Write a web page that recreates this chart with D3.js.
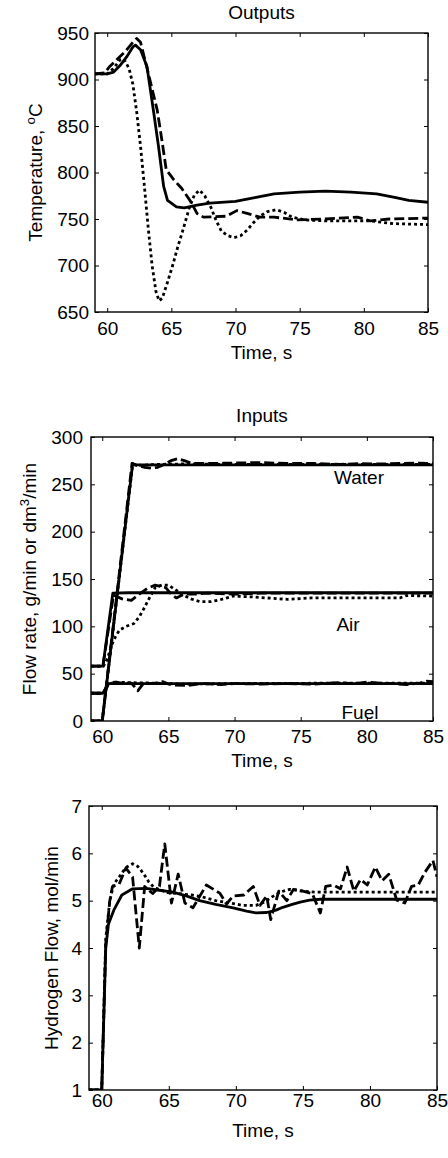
<!DOCTYPE html>
<html>
<head>
<meta charset="utf-8">
<script src="https://cdn.jsdelivr.net/npm/d3@7"></script>
<style>
body { margin: 0; background: #fff; }
svg text { font-family: "Liberation Sans", Arial, Helvetica, sans-serif; fill: #000; }
</style>
</head>
<body>
<svg id="chart" width="448" height="1158"></svg>
<script>
// ---- data (time s, value) ----
const timeTicks = [60, 65, 70, 75, 80, 85];

// Outputs: temperature
const tempTicks = [650, 700, 750, 800, 850, 900, 950];
const tempSolid = [[59,906],[60,906],[60.5,908],[61,915],[61.5,924],[62,935],[62.2,937],[62.6,932],[63.1,914],[63.6,867],[64,828],[64.4,785],[64.7,770],[65.4,763],[66,762],[67,765],[68,767],[70,769],[71.5,773],[73,777],[75,779],[77,780],[79,779],[81,777],[82.5,773],[83.5,770],[85,768]];
const tempDashed = [[59,906],[59.8,907],[60.2,914],[60.8,922],[61.4,930],[62,940],[62.3,944],[62.6,940],[63.2,907],[63.9,867],[64.26,835],[64.6,803],[65.2,792],[65.8,783],[66.5,769],[67,756],[67.5,752],[69.3,753],[70.1,759],[70.9,756],[71.9,752],[73,752],[74.8,749],[77,750],[79.5,752],[80.5,748],[82,750],[85,751]];
const tempDotted = [[59,906],[60,906],[60.5,912],[61,921],[61.3,922],[61.7,912],[62,895],[62.3,865],[62.6,828],[62.9,785],[63.2,740],[63.5,700],[63.8,672],[64.05,662],[64.3,665],[64.7,682],[65.1,700],[65.5,720],[65.9,738],[66.4,762],[66.8,776],[67.2,781],[67.6,775],[68.1,762],[68.5,748],[68.9,737],[69.4,732],[69.9,730],[70.4,732],[70.9,738],[71.4,746],[71.9,753],[72.5,758],[73.2,760],[73.8,757],[74.4,752],[75.4,749],[77,748],[79,748],[80.5,748],[82.3,745],[85,744]];

// Inputs: water, air, fuel
const flowTicks = [0, 50, 100, 150, 200, 250, 300];
const waterSolid = [[59.15,0],[60,0],[62.3,272],[62.5,270.5],[85,270.5]];
const waterDashed = [[59.15,0],[60,0],[62.25,272],[62.6,270],[63.2,268],[63.7,267],[64.2,268],[64.7,271],[65.2,275],[65.7,277],[66.2,275],[66.8,272],[68,272],[70,272.5],[72,273],[74,272],[76,272],[78,271],[79.5,272],[81,271.5],[82.5,272],[84,272.5],[85,272]];
const waterDotted = [[59.15,0],[60,0],[62.3,271],[63,270],[64,271],[66,271.5],[70,271],[85,271]];
const airSolid = [[59.15,58],[60.05,58],[60.8,135],[62,135.5],[85,135.5]];
const airDashed = [[59.15,58],[60.05,58],[60.85,133],[61.5,129],[62.2,127.5],[62.8,134],[63.4,140],[64,143.5],[64.8,141],[65.2,134],[65.6,130],[66.2,134],[67,134],[68,135],[70,134],[72,135],[75,135],[80,135],[85,135]];
const airDotted = [[59.15,58],[60.1,58],[60.4,66],[60.7,80],[61,89],[61.3,96],[61.8,100],[62.4,103],[62.8,110],[63.2,120],[63.6,131],[64,141],[64.5,143.5],[65,143.5],[65.5,139],[66.1,133],[66.7,129],[67.4,126],[68.2,126],[68.9,128],[69.9,132],[71.4,131],[74,128.5],[75.8,130],[78,130],[80,130],[82.5,130],[83,132.5],[85,132]];
const fuelSolid = [[59.15,29.3],[60.05,29.3],[60.5,39.5],[85,39.5]];
const fuelDashed = [[59.15,29.3],[60.05,29.3],[60.5,40.5],[61,41],[61.5,40],[62.2,40],[62.7,32],[63.1,39.5],[64,40],[64.6,41.5],[65,39],[65.5,38],[66.5,37.5],[67.5,39.5],[69,38.5],[70,39.5],[72,39],[74,39.5],[76,39],[77,40],[78,40.5],[79,39.5],[80,41],[81,40],[82,39.5],[83,38.5],[84,40],[84.5,42],[85,41.5]];
const fuelDotted = [[59.15,29.3],[60.05,29.3],[60.5,39],[61,41],[62,40.5],[64,40],[66,39],[70,39.5],[78,40],[85,40]];

// Hydrogen flow
const h2Ticks = [1, 2, 3, 4, 5, 6, 7];
const h2Solid = [[59.05,1],[60,1],[60.3,4],[60.5,4.5],[60.9,4.8],[61.5,5.12],[62.3,5.25],[63.3,5.26],[64.3,5.22],[65.3,5.18],[66.3,5.1],[67.3,5],[68.5,4.92],[69.8,4.85],[70.8,4.78],[71.5,4.74],[72.3,4.75],[73,4.8],[73.5,4.86],[74.2,4.92],[74.8,4.97],[75.5,5.01],[76.3,5.03],[85,5.03]];
const h2Dashed = [[59.05,1],[60,1],[60.3,4.1],[60.6,5],[60.8,5.3],[61.3,5.35],[61.8,5.69],[62.3,5.5],[62.8,4],[63.2,5.3],[63.8,5.15],[64.3,5.3],[64.7,6.2],[65.2,4.95],[65.7,5.56],[66.2,4.95],[66.8,4.85],[67.8,5.33],[68.8,5.16],[69.3,4.93],[69.8,5.1],[70.6,5.12],[71.3,5.3],[71.8,4.9],[72.3,5.1],[72.6,4.6],[73.2,5.2],[73.8,5],[74.3,5.24],[75,5.2],[75.7,5.15],[76.3,4.74],[76.7,5.3],[77.3,5.33],[77.8,5.25],[78.3,5.71],[78.8,5.2],[79.3,5.45],[79.8,5.33],[80.4,5.71],[80.9,5.42],[81.4,5.56],[82,5.01],[82.6,4.95],[83.1,5.3],[83.6,5.33],[84.1,5.6],[84.7,5.85],[85,5.5]];
const h2Dotted = [[59.05,1],[60,1],[60.3,4.2],[60.6,5],[60.9,5.35],[61.3,5.5],[61.8,5.7],[62.3,5.78],[62.7,5.72],[63.1,5.58],[63.5,5.4],[63.9,5.28],[64.9,5.17],[66,5.14],[66.7,5.12],[67.5,5.08],[68.5,5],[69.6,4.95],[70.5,4.9],[71.5,4.9],[72.2,4.98],[72.7,5.08],[73.3,5.18],[74,5.24],[75,5.2],[76,5.18],[85,5.18]];

const FONT = 19;
const svg = d3.select("#chart");
const dashes = { solid: null, dashed: "10,4", dotted: "3,3" };

function drawPanel(p) {
    const x = d3.scaleLinear().domain(p.xDomain).range([p.left, p.right]);
    const y = d3.scaleLinear().domain(p.yDomain).range([p.bottom, p.top]);
    const g = svg.append("g");

    g.append("clipPath").attr("id", p.id + "-clip")
        .append("rect").attr("x", p.left).attr("y", p.top)
        .attr("width", p.right - p.left).attr("height", p.bottom - p.top);

    const line = d3.line().x(d => x(d[0])).y(d => y(d[1]));
    const plot = g.append("g").attr("clip-path", "url(#" + p.id + "-clip)");
    p.series.forEach(s => {
        plot.append("path").datum(s.data)
            .attr("fill", "none").attr("stroke", "#000")
            .attr("stroke-width", 2.8)
            .attr("stroke-linejoin", "round")
            .attr("stroke-dasharray", dashes[s.style])
            .attr("d", line);
    });

    // axes with inward ticks, MATLAB box style
    const bottomAxis = g.append("g").attr("transform", "translate(0," + p.bottom + ")")
        .call(d3.axisBottom(x).tickValues(timeTicks).tickSize(-4).tickPadding(p.xPad).tickFormat(d3.format("d")));
    const leftAxis = g.append("g").attr("transform", "translate(" + p.left + ",0)")
        .call(d3.axisLeft(y).tickValues(p.yTicks).tickSize(-4).tickPadding(p.yPad).tickFormat(d3.format("d")));
    g.append("g").attr("transform", "translate(0," + p.top + ")")
        .call(d3.axisTop(x).tickValues(timeTicks).tickSize(-4).tickFormat(""));
    g.append("g").attr("transform", "translate(" + p.right + ",0)")
        .call(d3.axisRight(y).tickValues(p.yTicks).tickSize(-4).tickFormat(""));
    g.selectAll(".domain").remove();
    g.selectAll(".tick line").attr("stroke", "#000").attr("stroke-width", 1);
    [bottomAxis, leftAxis].forEach(a => a.attr("font-size", FONT).attr("font-family", null));

    g.append("rect").attr("x", p.left).attr("y", p.top)
        .attr("width", p.right - p.left).attr("height", p.bottom - p.top)
        .attr("fill", "none").attr("stroke", "#000").attr("stroke-width", 1.4);

    if (p.title) {
        g.append("text").attr("x", (p.left + p.right) / 2).attr("y", p.titleY)
            .attr("text-anchor", "middle").attr("font-size", FONT).text(p.title);
    }
    g.append("text").attr("x", (p.left + p.right) / 2).attr("y", p.xLabelY)
        .attr("text-anchor", "middle").attr("font-size", FONT).text("Time, s");

    const yl = g.append("text").attr("text-anchor", "middle").attr("font-size", FONT)
        .attr("transform", "translate(" + p.yLabelX + "," + (p.top + p.bottom) / 2 + ") rotate(-90)");
    p.yLabel.forEach(part => {
        const t = yl.append("tspan").text(part.text);
        if (part.sup) t.attr("font-size", FONT * 0.7).attr("dy", "-0.55em");
        else if (part.after) t.attr("dy", "0.38em");
    });

    (p.notes || []).forEach(n => {
        g.append("text").attr("x", n.x).attr("y", n.y).attr("text-anchor", "middle")
            .attr("font-size", FONT).text(n.text);
    });
}

drawPanel({
    id: "temp", left: 95, right: 428, top: 33, bottom: 312,
    xDomain: [59.05, 85], yDomain: [650, 950], yTicks: tempTicks,
    xPad: 10, yPad: 6,
    title: "Outputs", titleY: 19, xLabelY: 359, yLabelX: 42,
    yLabel: [{ text: "Temperature, " }, { text: "o", sup: true }, { text: "C", after: true }],
    series: [
        { data: tempSolid, style: "solid" },
        { data: tempDashed, style: "dashed" },
        { data: tempDotted, style: "dotted" }
    ]
});

drawPanel({
    id: "flow", left: 91, right: 433, top: 437, bottom: 721,
    xDomain: [59.15, 85], yDomain: [0, 300], yTicks: flowTicks,
    xPad: 9, yPad: 8,
    title: "Inputs", titleY: 422, xLabelY: 767, yLabelX: 36,
    yLabel: [{ text: "Flow rate, g/min or dm" }, { text: "3", sup: true }, { text: "/min", after: true }],
    notes: [
        { text: "Water", x: 359, y: 484 },
        { text: "Air", x: 348, y: 631 },
        { text: "Fuel", x: 360, y: 719 }
    ],
    series: [
        { data: waterSolid, style: "solid" },
        { data: waterDashed, style: "dashed" },
        { data: waterDotted, style: "dotted" },
        { data: airSolid, style: "solid" },
        { data: airDashed, style: "dashed" },
        { data: airDotted, style: "dotted" },
        { data: fuelSolid, style: "solid" },
        { data: fuelDashed, style: "dashed" },
        { data: fuelDotted, style: "dotted" }
    ]
});

drawPanel({
    id: "h2", left: 89, right: 437, top: 806, bottom: 1090,
    xDomain: [59.05, 85], yDomain: [1, 7], yTicks: h2Ticks,
    xPad: 3, yPad: 7,
    title: null, xLabelY: 1137, yLabelX: 58,
    yLabel: [{ text: "Hydrogen Flow, mol/min" }],
    series: [
        { data: h2Solid, style: "solid" },
        { data: h2Dashed, style: "dashed" },
        { data: h2Dotted, style: "dotted" }
    ]
});
</script>
</body>
</html>
